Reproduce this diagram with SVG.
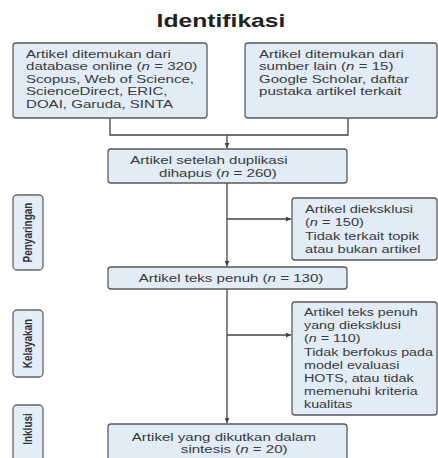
<svg xmlns="http://www.w3.org/2000/svg" width="438" height="458" viewBox="0 0 438 458">
<style>
.bx{fill:#e1ecf7;stroke:#5a5a5a;stroke-width:1.3}
.side{fill:#e4eef8;stroke:#666;stroke-width:1.3}
.t{font-family:"Liberation Sans",Arial,sans-serif;font-size:11px;fill:#3a3a3a}
.s{font-family:"Liberation Sans",Arial,sans-serif;font-size:10px;font-weight:bold;fill:#333}
.ttl{font-family:"Liberation Sans",Arial,sans-serif;font-size:18px;font-weight:bold;fill:#222}
.i{font-style:italic}
.ln{fill:none;stroke:#444;stroke-width:1.3}
</style>
<defs>
<marker id="ar" viewBox="0 0 10 10" refX="10" refY="5" markerWidth="5" markerHeight="5" orient="auto" markerUnits="userSpaceOnUse">
<path d="M0,0 L10,5 L0,10 Z" fill="#444"/>
</marker>
</defs>
<rect width="438" height="458" fill="#ffffff"/>

<g id="title">
<text class="ttl" text-anchor="middle" transform="translate(221,27) scale(1.37,1)">Identifikasi</text>
</g>

<g id="connectors">
<path class="ln" d="M110,118 V135 H348 V118"/>
<path class="ln" d="M227,135 V148" marker-end="url(#ar)"/>
<path class="ln" d="M227,183 V266" marker-end="url(#ar)"/>
<path class="ln" d="M227,219 H291" marker-end="url(#ar)"/>
<path class="ln" d="M227,289 V423" marker-end="url(#ar)"/>
<path class="ln" d="M227,335 H291" marker-end="url(#ar)"/>
</g>

<g id="side-penyaringan">
<rect class="side" x="13" y="195" width="30" height="75" rx="4"/>
<text class="s" text-anchor="middle" transform="translate(31.5,232.5) scale(1.3,1) rotate(-90)">Penyaringan</text>
</g>
<g id="side-kelayakan">
<rect class="side" x="13" y="310" width="30" height="67" rx="4"/>
<text class="s" text-anchor="middle" transform="translate(31.5,343.5) scale(1.3,1) rotate(-90)">Kelayakan</text>
</g>
<g id="side-inklusi">
<rect class="side" x="13" y="405" width="30" height="70" rx="4"/>
<text class="s" text-anchor="middle" transform="translate(31.5,429) scale(1.3,1) rotate(-90)">Inklusi</text>
</g>

<g id="n-database">
<rect class="bx" x="13" y="43" width="194" height="75" rx="3"/>
<text class="t" transform="translate(26,58) scale(1.37,1)">
<tspan x="0" y="0">Artikel ditemukan dari</tspan>
<tspan x="0" y="12.5">database online (<tspan class="i">n</tspan> = 320)</tspan>
<tspan x="0" y="25">Scopus, Web of Science,</tspan>
<tspan x="0" y="37.5">ScienceDirect, ERIC,</tspan>
<tspan x="0" y="50">DOAI, Garuda, SINTA</tspan>
</text>
</g>

<g id="n-other">
<rect class="bx" x="245" y="43" width="192" height="75" rx="3"/>
<text class="t" transform="translate(259,58) scale(1.37,1)">
<tspan x="0" y="0">Artikel ditemukan dari</tspan>
<tspan x="0" y="12.5">sumber lain (<tspan class="i">n</tspan> = 15)</tspan>
<tspan x="0" y="25">Google Scholar, daftar</tspan>
<tspan x="0" y="37.5">pustaka artikel terkait</tspan>
</text>
</g>

<g id="n-dedup">
<rect class="bx" x="108" y="149" width="239" height="34" rx="3"/>
<text class="t" text-anchor="middle" transform="translate(211,164) scale(1.37,1)">
<tspan x="0" y="0">Artikel setelah duplikasi</tspan>
<tspan x="5" y="13">dihapus (<tspan class="i">n</tspan> = 260)</tspan>
</text>
</g>

<g id="n-excl1">
<rect class="bx" x="292" y="198" width="145" height="62" rx="3"/>
<text class="t" transform="translate(305,213) scale(1.33,1)">
<tspan x="0" y="0">Artikel dieksklusi</tspan>
<tspan x="0" y="13">(<tspan class="i">n</tspan> = 150)</tspan>
<tspan x="0" y="27">Tidak terkait topik</tspan>
<tspan x="0" y="40">atau bukan artikel</tspan>
</text>
</g>

<g id="n-fulltext">
<rect class="bx" x="108" y="267" width="239" height="22" rx="3"/>
<text class="t" text-anchor="middle" transform="translate(231,282) scale(1.37,1)">Artikel teks penuh (<tspan class="i">n</tspan> = 130)</text>
</g>

<g id="n-excl2">
<rect class="bx" x="292" y="302" width="145" height="113" rx="3"/>
<text class="t" transform="translate(304,316) scale(1.3,1)">
<tspan x="0" y="0">Artikel teks penuh</tspan>
<tspan x="0" y="13.2">yang dieksklusi</tspan>
<tspan x="0" y="26.4">(<tspan class="i">n</tspan> = 110)</tspan>
<tspan x="0" y="39.6">Tidak berfokus pada</tspan>
<tspan x="0" y="52.8">model evaluasi</tspan>
<tspan x="0" y="66">HOTS, atau tidak</tspan>
<tspan x="0" y="79.2">memenuhi kriteria</tspan>
<tspan x="0" y="92.4">kualitas</tspan>
</text>
</g>

<g id="n-included">
<rect class="bx" x="108" y="424" width="239" height="50" rx="3"/>
<text class="t" text-anchor="middle" transform="translate(226,441) scale(1.37,1)">
<tspan x="0" y="0">Artikel yang dikutkan dalam</tspan>
<tspan x="6" y="12">sintesis (<tspan class="i">n</tspan> = 20)</tspan>
</text>
</g>
</svg>
